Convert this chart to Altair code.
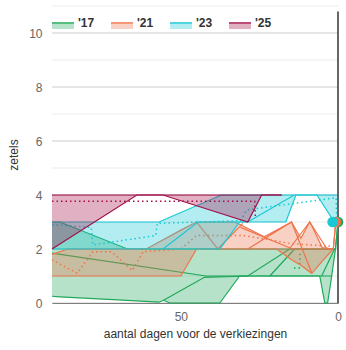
import altair as alt
import pandas as pd

years = ["'17", "'21", "'23", "'25"]
line_colors = ["#1ea85a", "#ee744c", "#17c9d4", "#a40f4a"]

# ---- '17 envelope (min / max seats) ----
g_days = [91, 88.5, 67, 57, 55.5, 53.5, 37.6, 31.3, 5.8, 4.2, 3.3, 2.0, 0.8, 0]
g_lo = [0.25, 0.23, 0.10, 0.03, 0.10, 0.0, 0.0, 1.0, 1.0, 0.0, 0.0, 1.0, 2.0, 3.0]
g_hi = [3.0, 3.0, 2.0, 2.0, 2.0, 2.0, 2.0, 2.0, 2.0, 2.0, 2.0, 2.0, 2.0, 3.0]
g_lines = [
    ([91, 42, 2], [1.85, 1.0, 1.0]),
    ([55.5, 42.5, 28.7, 15.4, 0.8], [0.1, 0.95, 1.0, 2.0, 2.0]),
    ([21.7, 13.8], [1.0, 2.0]),
    ([5.2, 1.1], [1.0, 2.0]),
]
g_mean = ([14, 12.3, 12], [1.3, 1.3, 1.9])

# ---- '21 ----
o_days = [91, 86, 61, 50, 45, 33, 31, 23.5, 19.5, 14.8, 11.8, 9, 8.3, 5, 1.5, 0.7]
o_lo = [1.0, 1.0, 1.0, 1.0, 2.0, 2.0, 2.0, 2.0, 2.0, 1.6, 1.4, 1.15, 1.1, 1.55, 2.0, 3.0]
o_hi = [1.8, 2.0, 2.0, 2.7, 3.0, 3.0, 2.9, 2.45, 2.7, 3.0, 2.4, 3.0, 2.85, 2.05, 2.0, 3.0]
o_lines = [
    ([45, 38.2, 30.3], [3.0, 2.0, 2.95]),
    ([31, 14.5, 1.5], [2.8, 2.0, 2.0]),
    ([28.7, 14.8, 8.3], [2.0, 3.0, 1.1]),
    ([15.5, 9, 3.5], [2.0, 3.0, 2.0]),
]
o_mean = ([91, 83, 78, 72, 65.5, 62, 50, 45, 30, 15, 2],
          [1.6, 1.1, 1.9, 1.9, 1.2, 1.9, 2.0, 2.5, 2.5, 2.2, 2.1])

# ---- '23 ----
c_days = [91, 57, 37.6, 37, 31.3, 16.6, 13.4, 6.7, 2.0, 0.3]
c_lo = [2.0, 2.0, 2.0, 2.1, 3.0, 3.0, 4.0, 4.0, 3.15, 3.1]
c_hi = [3.0, 3.0, 3.97, 4.0, 4.0, 4.0, 4.0, 4.0, 4.0, 4.0]
c_lines = [
    ([55.7, 44.5, 28.7, 13.9], [2.0, 3.0, 3.0, 4.0]),
]
c_mean = ([91, 78.5, 78, 58, 57.5, 31, 29, 0.6, 0.4],
          [2.9, 2.8, 2.15, 2.5, 2.95, 3.05, 3.45, 3.9, 3.1])

# ---- '25 ----
r_days = [91, 64, 55.7, 28.7, 24.3, 17.9]
r_lo = [2.0, 4.0, 4.0, 3.0, 4.0, 4.0]
r_hi = [4.0, 4.0, 4.0, 4.0, 4.0, 4.0]
r_lines = []
r_mean = ([91, 26.5, 26.3], [3.77, 3.77, 3.2])

# ---- election results ----
res_years = ["'17", "'21", "'23"]
res_days = [0, 0.7, 1.7]
res_seats = [3, 3, 3]

# ---- y grid / ticks ----
grid_values = list(range(12))
tick_values = [0, 2, 4, 6, 8, 10]

series = {
    "'17": (g_days, g_lo, g_hi, g_lines, g_mean),
    "'21": (o_days, o_lo, o_hi, o_lines, o_mean),
    "'23": (c_days, c_lo, c_hi, c_lines, c_mean),
    "'25": (r_days, r_lo, r_hi, r_lines, r_mean),
}

W, H = 286, 297
FONT = "Liberation Sans"

x_axis = alt.Axis(values=[0, 50], title="aantal dagen voor de verkiezingen", grid=False,
                  ticks=False, domainColor="#333333", labelColor="#666666", labelFontSize=12,
                  labelPadding=8, labelFlush=False, titleFontSize=12, titleFontWeight="normal",
                  titleColor="#333333", titlePadding=6)
y_axis = alt.Axis(values=tick_values, title="zetels", ticks=False, domain=False, grid=False,
                  labelColor="#666666", labelFontSize=12, labelPadding=10,
                  titleFontSize=12, titleFontWeight="normal", titleColor="#333333",
                  titlePadding=8)
xs = alt.Scale(domain=[91, 0], nice=False, zero=False)
ys = alt.Scale(domain=[0, 11], nice=False, zero=True)

layers = []
gdf = pd.DataFrame({"g": grid_values})
gdf["major"] = gdf["g"] % 2 == 0
layers.append(
    alt.Chart(gdf).mark_rule(strokeWidth=1).encode(
        y=alt.Y("g:Q", scale=ys, axis=y_axis),
        color=alt.Color("major:N", scale=alt.Scale(domain=[True, False],
                                                  range=["#cccccc", "#ececec"]), legend=None),
    )
)
layers.append(
    alt.Chart(pd.DataFrame({"k": [0]})).mark_rule(color="#333333", strokeWidth=1.5).encode(
        x=alt.datum(0, scale=xs),
        y=alt.datum(0),
        y2=alt.datum(10.8),
    )
)

for yr, lc in zip(years, line_colors):
    days, lo, hi, extra, mean = series[yr]
    env = pd.DataFrame({"day": days, "lo": lo, "hi": hi})
    layers.append(
        alt.Chart(env).mark_area(color=lc, opacity=0.33, interpolate="linear").encode(
            x=alt.X("day:Q", scale=xs, axis=x_axis),
            y=alt.Y("lo:Q", scale=ys, axis=y_axis),
            y2="hi:Q",
        )
    )
    rows = []
    for i, (d, v) in enumerate(zip(days, lo)):
        rows.append({"lid": "lo", "seq": i, "day": d, "seats": v})
    for i, (d, v) in enumerate(zip(days, hi)):
        rows.append({"lid": "hi", "seq": i, "day": d, "seats": v})
    for k, (dd, vv) in enumerate(extra):
        for i, (d, v) in enumerate(zip(dd, vv)):
            rows.append({"lid": f"p{k}", "seq": i, "day": d, "seats": v})
    ldf = pd.DataFrame(rows)
    layers.append(
        alt.Chart(ldf).mark_line(color=lc, strokeWidth=1.2).encode(
            x=alt.X("day:Q", scale=xs, axis=x_axis),
            y=alt.Y("seats:Q", scale=ys, axis=y_axis),
            detail="lid:N",
            order="seq:Q",
        )
    )
    mdf = pd.DataFrame({"day": mean[0], "seats": mean[1], "seq": list(range(len(mean[0])))})
    layers.append(
        alt.Chart(mdf).mark_line(color=lc, strokeWidth=1.5, strokeDash=[1.5, 3]).encode(
            x=alt.X("day:Q", scale=xs, axis=x_axis),
            y=alt.Y("seats:Q", scale=ys, axis=y_axis),
            order="seq:Q",
        )
    )

res = pd.DataFrame({"year": res_years, "day": res_days, "seats": res_seats})
layers.append(
    alt.Chart(res).mark_circle(size=115, opacity=1).encode(
        x=alt.X("day:Q", scale=xs, axis=x_axis),
        y=alt.Y("seats:Q", scale=ys, axis=y_axis),
        fill=alt.Fill("year:N", scale=alt.Scale(domain=years, range=line_colors), legend=None),
    )
)

main = alt.layer(*layers).resolve_scale(color="independent")

# ---- custom legend (pixel positions inside the plot area) ----
step = 59
leg = pd.DataFrame({"year": years})
leg["x0"] = [i * step for i in range(len(years))]
leg["x1"] = leg["x0"] + 22
leg["xt"] = leg["x0"] + 26
pix = alt.Scale(domain=[0, W], range=[0, W], nice=False, zero=False)
col = alt.Color("year:N", scale=alt.Scale(domain=years, range=line_colors), legend=None)
leg_rect = alt.Chart(leg).mark_rect(opacity=0.33).encode(
    x=alt.X("x0:Q", scale=pix, axis=None), x2="x1:Q",
    y=alt.value(18), y2=alt.value(23), color=col)
leg_line = alt.Chart(leg).mark_rule(strokeWidth=1.5).encode(
    x=alt.X("x0:Q", scale=pix, axis=None), x2="x1:Q", y=alt.value(17), color=col)
leg_text = alt.Chart(leg).mark_text(align="left", baseline="alphabetic", fontSize=12,
                                    fontWeight="bold", color="#333333", font=FONT).encode(
    x=alt.X("xt:Q", scale=pix, axis=None), y=alt.value(21.3), text="year:N")
legend = alt.layer(leg_rect, leg_line, leg_text)

chart = alt.layer(main, legend).resolve_scale(x="independent", color="independent").properties(
    width=W, height=H,
    padding={"left": 52, "top": 6, "right": 8, "bottom": 47},
    autosize="none",
).configure_view(stroke=None).configure_axis(
    labelFont=FONT, titleFont=FONT, labelColor="#666666", titleColor="#333333")

chart.save("out.html", embed_options={"renderer": "svg", "actions": False})
